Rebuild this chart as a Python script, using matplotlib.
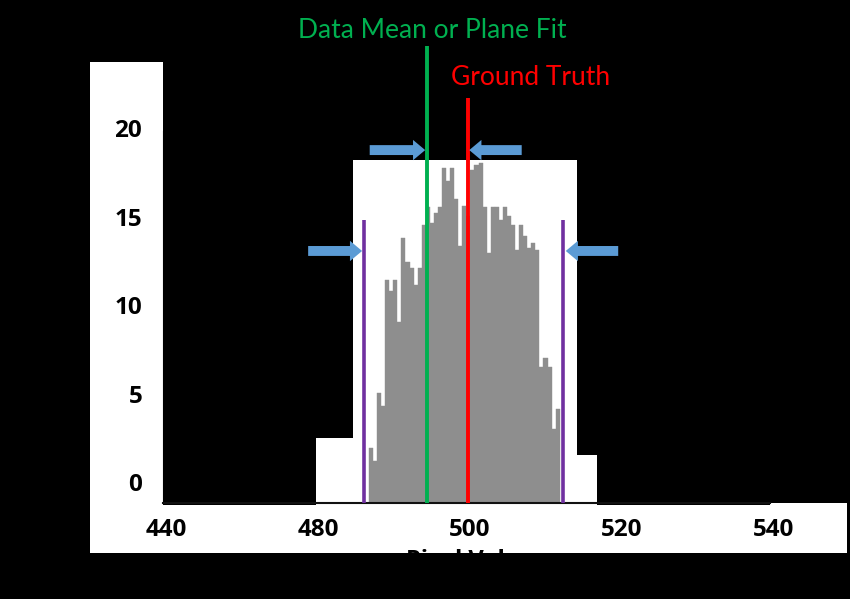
import numpy as np
import matplotlib
matplotlib.use("Agg")
import matplotlib.pyplot as plt
from matplotlib.patches import Rectangle
from matplotlib.transforms import ScaledTranslation

plt.rcParams["font.family"] = ["Lato", "DejaVu Sans"]

# histogram counts, left to right
counts = [3.1, 2.4, 6.2, 5.5, 12.6, 12.0, 12.6, 10.2, 15.0, 13.6, 13.3, 12.3,
          13.3, 15.7, 16.7, 15.8,
          16.4, 16.7, 18.9, 18.2, 18.9, 17.2, 14.5, 16.8, 16.2, 18.8, 19.1,
          19.2, 16.7, 14.1, 16.7, 16.7,
          16.0, 16.7, 16.2, 15.7, 14.3, 15.7, 15.1, 14.4, 14.7, 14.3, 7.7,
          8.2, 7.7, 4.2, 5.3]
hist_range = (486.7, 511.8)

data_mean = 494.3
ground_truth = 499.7
bounds = [486.1, 512.2]

xtick_pos = [460, 480, 500, 520, 540]
xtick_labels = ["440", "480", "500", "520", "540"]
ytick_pos = [0, 5, 10, 15, 20]

W, H = 850, 599
fig = plt.figure(figsize=(W / 100, H / 100), dpi=100, facecolor="black")


def px_rect(x0, y0, x1, y1):
    # white patches given in image pixels (y from top)
    r = Rectangle((x0 / W, 1 - y1 / H), (x1 - x0) / W, (y1 - y0) / H,
                  transform=fig.transFigure, facecolor="white",
                  edgecolor="none", zorder=-1)
    fig.add_artist(r)


px_rect(90, 62, 163, 553)
px_rect(90, 505, 770, 553)
px_rect(770, 503, 847, 553)
px_rect(353, 160, 577, 505)
px_rect(316, 438, 353, 505)
px_rect(577, 455, 597, 505)

ax = fig.add_axes([163 / W, 96 / H, 649 / W, 483 / H])
ax.set_facecolor("none")
ax.set_xlim(459.6, 545)
ax.set_ylim(0, 27.29)

edges = np.linspace(hist_range[0], hist_range[1], len(counts) + 1)
ax.bar(edges[:-1], counts, width=np.diff(edges), align="edge",
       color="#8e8e8e", edgecolor="#8e8e8e", lw=0.3, zorder=2)

ax.vlines(bounds, 0, 16.0, color="#7030a0", lw=2.6, zorder=3)
ax.vlines(data_mean, 0, 25.8, color="#00b050", lw=2.8, zorder=3)
ax.vlines(ground_truth, 0, 22.9, color="#ff0000", lw=2.8, zorder=3)

blue = "#5b9bd5"
arrows = [(478.7, 14.24, 7.1), (519.5, 14.24, -6.9),
          (486.8, 19.94, 7.3), (506.8, 19.94, -6.9)]
for x, y, dx in arrows:
    ax.arrow(x, y, dx, 0, width=0.56, head_width=1.15, head_length=1.6,
             length_includes_head=True, color=blue, lw=0, zorder=4,
             clip_on=False)

ax.text(495.0, 26.3, "Data Mean or Plane Fit", color="#00b050",
        fontsize=19, ha="center", va="baseline", clip_on=False)
ax.text(508.0, 23.6, "Ground Truth", color="#ff0000",
        fontsize=19, ha="center", va="baseline", clip_on=False)

for s in ["top", "right"]:
    ax.spines[s].set_visible(False)
ax.spines["left"].set_color("black")
ax.spines["left"].set_bounds(0, 21.0)
ax.spines["bottom"].set_color("#111111")
ax.spines["bottom"].set_linewidth(1.5)
ax.spines["bottom"].set_bounds(459.6, 539.5)

tick_font = ["Open Sans", "DejaVu Sans"]
ax.set_xticks(xtick_pos, xtick_labels)
ax.set_yticks(ytick_pos, [str(v) for v in ytick_pos])
ax.tick_params(axis="both", length=0, labelcolor="black")
ax.tick_params(axis="x", pad=11)
ax.tick_params(axis="y", pad=15)
for lab in ax.get_xticklabels() + ax.get_yticklabels():
    lab.set_family(tick_font)
    lab.set_fontsize(17.5)
    lab.set_fontweight("bold")
shift = ScaledTranslation(0, 21 / 100, fig.dpi_scale_trans)
for lab in ax.get_yticklabels():
    lab.set_transform(lab.get_transform() + shift)

# x label: only its top edge falls inside the white strip
ax.set_xlabel("Pixel Value", fontsize=17, fontweight="bold", color="black",
              family=tick_font)
ax.xaxis.set_label_coords((500 - 459.6) / (545 - 459.6), -46 / 483)
ax.xaxis.label.set_va("top")

fig.savefig("out.png", dpi=100, facecolor="black")
